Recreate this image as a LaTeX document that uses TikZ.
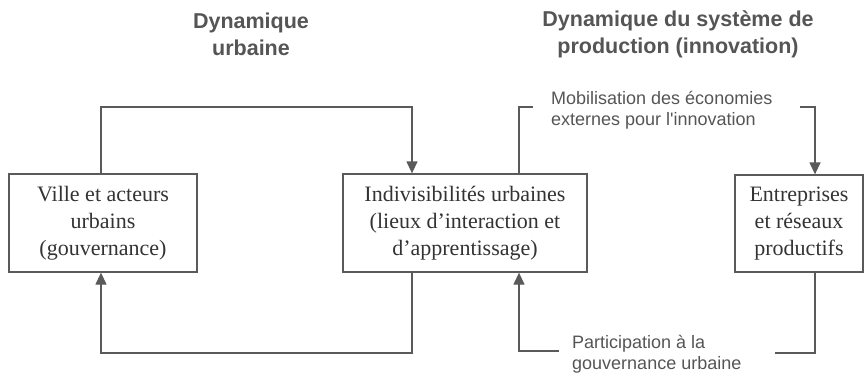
\documentclass[tikz,border=0pt]{standalone}
\usepackage{fontspec}
\setmainfont{Liberation Serif}
\newfontfamily\labelsans{Liberation Sans}
\usetikzlibrary{arrows.meta}
\definecolor{linegray}{HTML}{5A5A5A}
\definecolor{textgray}{HTML}{333333}
\definecolor{titlegray}{HTML}{555555}
\begin{document}
\begin{tikzpicture}[x=1pt,y=-1pt,
  box/.style={draw=linegray, line width=1.3pt, inner sep=0pt, align=center,
    text=textgray, font=\fontsize{22}{27}\selectfont},
  title/.style={align=center, text=titlegray, font=\labelsans\bfseries\fontsize{21.5}{27}\selectfont},
  lbl/.style={align=left, anchor=west, text=titlegray, inner sep=0pt, font=\labelsans\fontsize{18}{21}\selectfont},
  conn/.style={draw=linegray, line width=1.3pt},
  arr/.style={conn, -{Triangle[length=12pt,width=11pt]}}]
\useasboundingbox (0,0) rectangle (864,378);

\node[title] (t1) at (251,34) {Dynamique\\urbaine};
\node[title] (t2) at (678,34) {Dynamique du système de\\production (innovation)};

\node[box, minimum width=188pt, minimum height=98pt] (v) at (103,223)
  {Ville et acteurs\\urbains\\(gouvernance)};
\node[box, minimum width=244pt, minimum height=98pt] (i) at (465,223)
  {Indivisibilités urbaines\\(lieux d’interaction et\\d’apprentissage)};
\node[box, minimum width=128pt, minimum height=97pt] (e) at (799,223.5)
  {Entreprises\\et réseaux\\productifs};

\node[lbl] (m) at (551,110) {Mobilisation des économies\\externes pour l'innovation};
\node[lbl] (p) at (572,354) {Participation à la\\gouvernance urbaine};

% top loop
\coordinate (a1) at (101,107);
\coordinate (a2) at (412,107);
\draw[arr] (v.north -| a1) -- (a1) -- (a2) -- (i.north -| a2);
% bottom loop
\coordinate (b1) at (412,353);
\coordinate (b2) at (101,353);
\draw[arr] (i.south -| b1) -- (b1) -- (b2) -- (v.south -| b2);

% right top bracket
\coordinate (c1) at (519,107);
\coordinate (c2) at (533,107);
\draw[conn] (i.north -| c1) -- (c1) -- (c2);
\coordinate (d1) at (800,107);
\coordinate (d2) at (815,107);
\draw[arr] (d1) -- (d2) -- (e.north -| d2);

% right bottom bracket
\coordinate (f1) at (519,351);
\coordinate (f2) at (559,351);
\draw[arr] (f2) -- (f1) -- (i.south -| f1);
\coordinate (g1) at (815,353);
\coordinate (g2) at (775,353);
\draw[conn] (e.south -| g1) -- (g1) -- (g2);
\end{tikzpicture}
\end{document}
